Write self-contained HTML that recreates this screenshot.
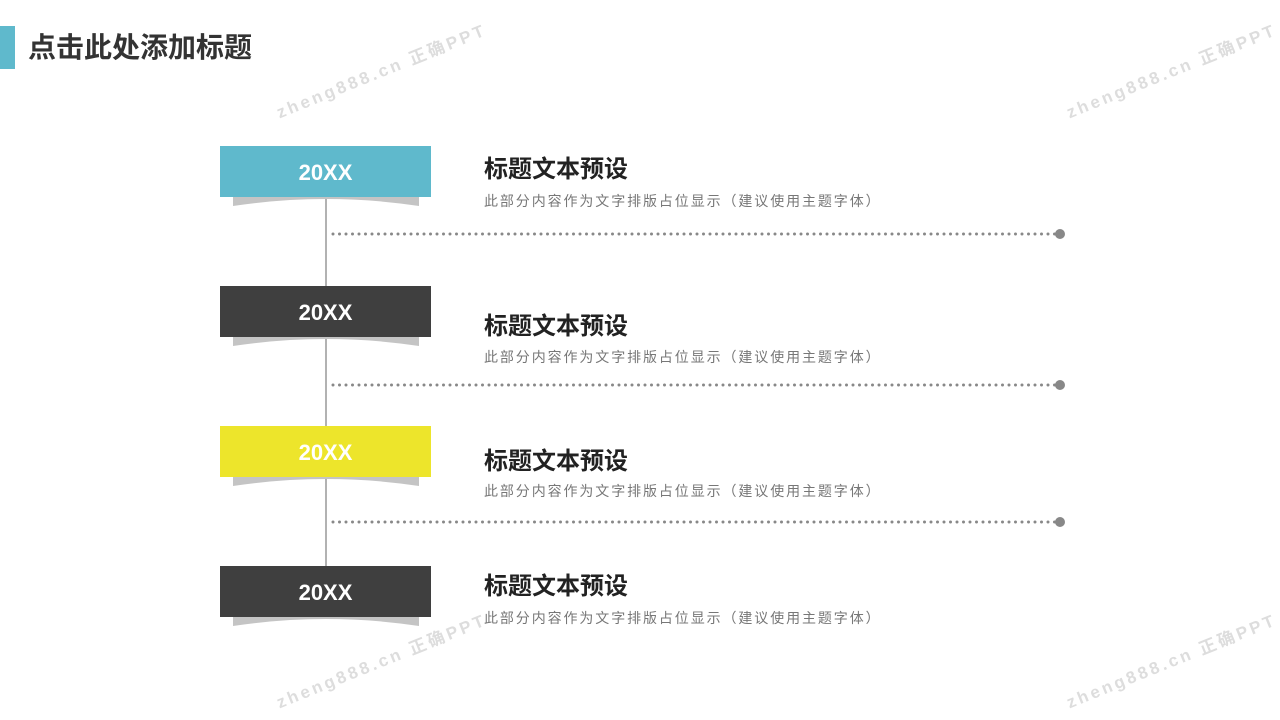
<!DOCTYPE html>
<html><head><meta charset="utf-8"><style>
body{margin:0;width:1280px;height:720px;background:#fff;position:relative;overflow:hidden;font-family:"Liberation Sans","Noto Sans CJK SC",sans-serif}
.a{position:absolute}
.box{position:absolute;left:220px;width:211px;height:51px;color:#fff;font-weight:bold;font-size:22px;line-height:53px;text-align:center}
.t{position:absolute;left:484px;font-size:24px;font-weight:bold;color:#222;line-height:1}
.s{position:absolute;left:484px;font-size:14px;letter-spacing:1.9px;color:#777;line-height:1}
.wm{position:absolute;font-size:17px;color:#ddd;letter-spacing:3px;transform:rotate(-22deg);transform-origin:left top;font-weight:bold;white-space:nowrap}
</style></head><body>
<div class="a" style="left:0;top:26px;width:15px;height:43px;background:#5fb9cc"></div>
<div class="a" style="left:28px;top:30px;font-size:28px;font-weight:bold;color:#333;line-height:36px">点击此处添加标题</div>
<div class="wm" style="left:272px;top:100px">zheng888.cn 正确PPT</div>
<div class="wm" style="left:1062px;top:100px">zheng888.cn 正确PPT</div>
<div class="wm" style="left:272px;top:690px">zheng888.cn 正确PPT</div>
<div class="wm" style="left:1062px;top:690px">zheng888.cn 正确PPT</div>
<svg class="a" style="left:0;top:0" width="1280" height="720">
<line x1="326" y1="197" x2="326" y2="566" stroke="#999" stroke-width="1.5"/>
<g fill="#c4c4c4">
<path d="M233 197 H419 V206 Q326 192 233 206Z"/>
<path d="M233 337 H419 V346 Q326 332 233 346Z"/>
<path d="M233 477 H419 V486 Q326 472 233 486Z"/>
<path d="M233 617 H419 V626 Q326 612 233 626Z"/>
</g>
<g stroke="#888" stroke-width="3" stroke-dasharray="0 6.5" stroke-linecap="round">
<line x1="333" y1="234" x2="1055" y2="234"/>
<line x1="333" y1="385" x2="1055" y2="385"/>
<line x1="333" y1="522" x2="1055" y2="522"/>
</g>
<g fill="#888"><circle cx="1060" cy="234" r="5"/><circle cx="1060" cy="385" r="5"/><circle cx="1060" cy="522" r="5"/></g>
</svg>
<div class="box" style="top:146px;background:#5fb9cc">20XX</div>
<div class="box" style="top:286px;background:#3f3f3f">20XX</div>
<div class="box" style="top:426px;background:#ede52b">20XX</div>
<div class="box" style="top:566px;background:#3f3f3f">20XX</div>
<div class="t" style="top:158px">标题文本预设</div>
<div class="s" style="top:194px">此部分内容作为文字排版占位显示（建议使用主题字体）</div>
<div class="t" style="top:315px">标题文本预设</div>
<div class="s" style="top:350px">此部分内容作为文字排版占位显示（建议使用主题字体）</div>
<div class="t" style="top:450px">标题文本预设</div>
<div class="s" style="top:484px">此部分内容作为文字排版占位显示（建议使用主题字体）</div>
<div class="t" style="top:575px">标题文本预设</div>
<div class="s" style="top:611px">此部分内容作为文字排版占位显示（建议使用主题字体）</div>
</body></html>
